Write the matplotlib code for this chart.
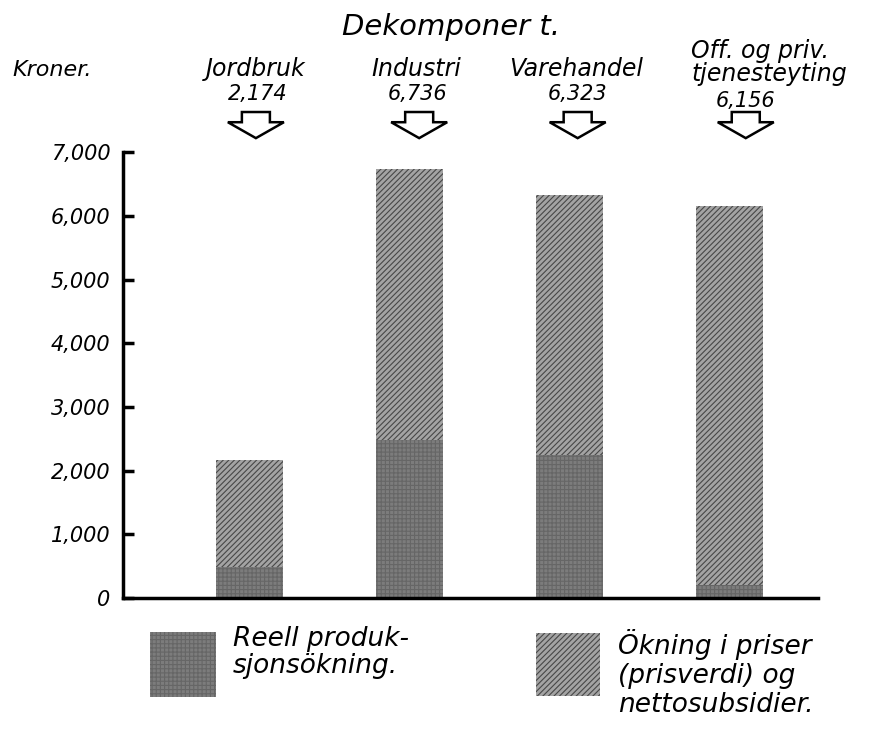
import numpy as np
import matplotlib
matplotlib.use("Agg")
import matplotlib.pyplot as plt
import matplotlib.patches as patches

plt.rcParams['font.family'] = 'DejaVu Sans'
plt.rcParams['font.style'] = 'italic'
plt.rcParams['hatch.linewidth'] = 0.8

# data
categories = ['Jordbruk', 'Industri', 'Varehandel', 'Off. og priv.\ntjenesteyting']
totals = [2174, 6736, 6323, 6156]
total_labels = ['2,174', '6,736', '6,323', '6,156']
real_growth = [480, 2480, 2240, 200]
price_growth = [t - r for t, r in zip(totals, real_growth)]
yticks = [0, 1000, 2000, 3000, 4000, 5000, 6000, 7000]
ytick_labels = ['0', '1,000', '2,000', '3,000', '4,000', '5,000', '6,000', '7,000']

dark_style = dict(facecolor='#7c7c7c', edgecolor='#666666', hatch='++++', linewidth=0)
light_style = dict(facecolor='#a3a3a3', edgecolor='#474747', hatch='//////', linewidth=0)

fig = plt.figure(figsize=(8.7, 7.35), dpi=100)
ax = fig.add_axes([0.1414, 0.1864, 0.7986, 0.6066])

x = np.arange(len(categories))
ax.bar(x, real_growth, width=0.42, **dark_style)
ax.bar(x, price_growth, bottom=real_growth, width=0.42, **light_style)

ax.set_xlim(-0.79, 3.55)
ax.set_ylim(0, 7000)
ax.set_xticks([])
ax.set_yticks(yticks)
ax.set_yticklabels(ytick_labels, fontsize=15)
ax.tick_params(axis='y', direction='in', length=8, width=2.5, pad=9)
for s in ['top', 'right']:
    ax.spines[s].set_visible(False)
ax.spines['left'].set_linewidth(2.5)
ax.spines['bottom'].set_linewidth(2.5)

# category names, totals and hollow arrows above the bars
arrow_shift = [0.04, 0.06, 0.05, 0.10]
for i in range(len(categories)):
    if '\n' in categories[i]:
        ax.text(x[i] - 0.24, 8400, categories[i], ha='left', va='center',
                fontsize=17, linespacing=0.95, clip_on=False)
        ax.text(x[i] + 0.10, 7800, total_labels[i], ha='center', va='center',
                fontsize=15, clip_on=False)
    else:
        ax.text(x[i] + 0.04, 8300, categories[i], ha='center', va='center',
                fontsize=17, clip_on=False)
        ax.text(x[i] + 0.05, 7910, total_labels[i], ha='center', va='center',
                fontsize=15, clip_on=False)
    arr = patches.FancyArrow(x[i] + arrow_shift[i], 7630, 0, -410, width=0.175,
                             head_width=0.35, head_length=250, length_includes_head=True,
                             facecolor='white', edgecolor='black', linewidth=1.8,
                             clip_on=False)
    ax.add_patch(arr)

fig.text(451 / 870, 1 - 27 / 735, 'Dekomponer t.', ha='center', va='center', fontsize=21)
fig.text(12 / 870, 1 - 70 / 735, 'Kroner.', ha='left', va='center', fontsize=16)

# legend
fig.add_artist(patches.Rectangle((150 / 870, 1 - 697 / 735), 66 / 870, 65 / 735,
                                 transform=fig.transFigure, **dark_style))
fig.add_artist(patches.Rectangle((536 / 870, 1 - 696 / 735), 64 / 870, 63 / 735,
                                 transform=fig.transFigure, **light_style))
fig.text(233 / 870, 1 - 626 / 735, 'Reell produk-\nsjonsökning.', ha='left', va='top',
         fontsize=19, linespacing=1.05)
fig.text(618 / 870, 1 - 629 / 735, 'Ökning i priser\n(prisverdi) og\nnettosubsidier.',
         ha='left', va='top', fontsize=19, linespacing=1.15)

plt.savefig('out.png', dpi=100)
